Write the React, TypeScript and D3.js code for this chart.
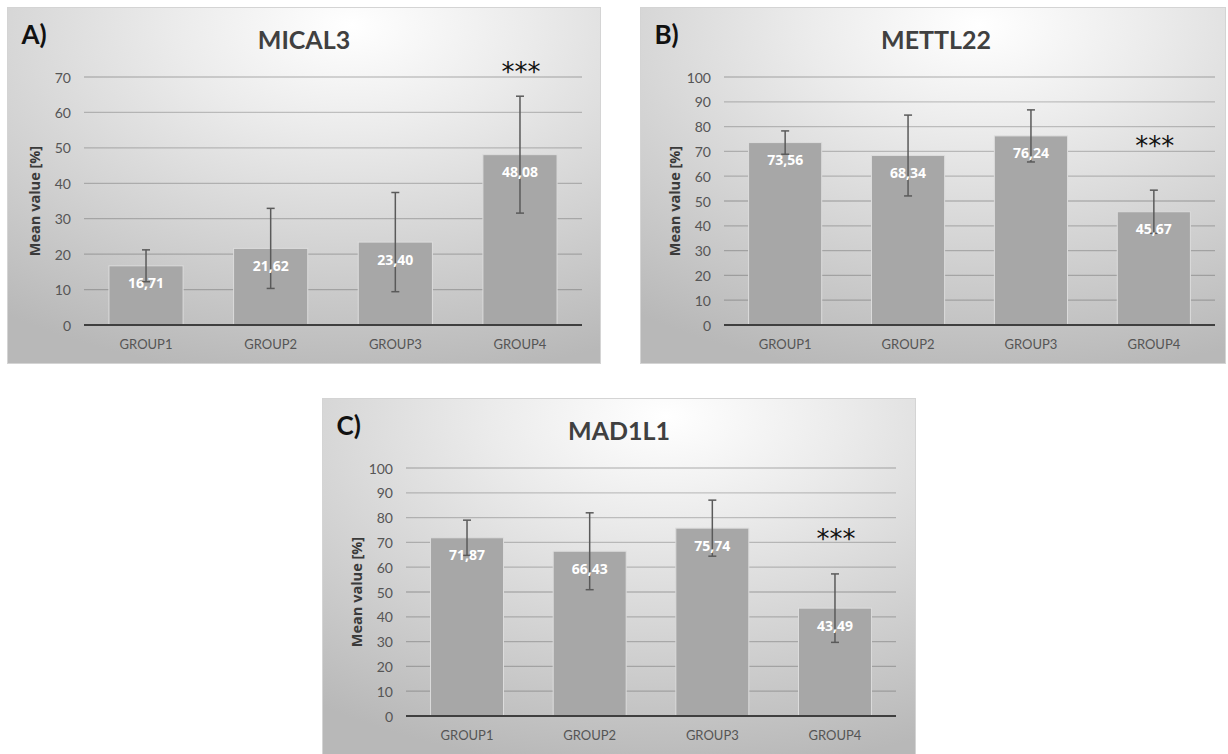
import React from 'react';
import * as d3 from 'd3';

// values
const groups = ['GROUP1', 'GROUP2', 'GROUP3', 'GROUP4'];

const mical3Means = [16.71, 21.62, 23.4, 48.08];
const mical3Sd = [4.5, 11.3, 14.0, 16.5];

const mettl22Means = [73.56, 68.34, 76.24, 45.67];
const mettl22Sd = [4.7, 16.3, 10.5, 8.7];

const mad1l1Means = [71.87, 66.43, 75.74, 43.49];
const mad1l1Sd = [7.1, 15.5, 11.3, 13.8];

const significant = [false, false, false, true];

const FONT = 'Lato, "Open Sans", sans-serif';
const HEAVY = '"Open Sans", Lato, sans-serif';

type PanelProps = {
  id: string;
  letter: string;
  title: string;
  means: number[];
  sds: number[];
  yMax: number;
  starLevel: number;
  box: { x: number; y: number; w: number; h: number; titleCx: number };
  plot: { left: number; right: number; top: number; bottom: number };
};

const fmt = (v: number) => v.toFixed(2).replace('.', ',');

const Panel = ({ id, letter, title, means, sds, yMax, starLevel, box, plot }: PanelProps) => {
  const x = d3.scaleBand<string>()
    .domain(groups)
    .range([plot.left, plot.right])
    .paddingInner(0.405)
    .paddingOuter(0.2);
  const y = d3.scaleLinear().domain([0, yMax]).range([plot.bottom, plot.top]);
  const ticks = d3.range(0, yMax + 1, 10);
  const bw = x.bandwidth();

  return (
    <g>
      <defs>
        <radialGradient id={`bg-${id}`} cx="0.58" cy="0.05" r="1.0" fx="0.58" fy="0.05">
          <stop offset="0" stopColor="#ffffff" />
          <stop offset="0.3" stopColor="#ebebeb" />
          <stop offset="1" stopColor="#b8b8b8" />
        </radialGradient>
      </defs>
      <rect x={box.x} y={box.y} width={box.w} height={box.h}
        fill={`url(#bg-${id})`} stroke="#d4d4d4" strokeWidth={1} />

      <text x={box.x + 14} y={box.y + 36} fontFamily={FONT} fontWeight="bold"
        fontSize={26} fill="#111">{letter}</text>
      <text x={box.titleCx} y={box.y + 41} textAnchor="middle" fontFamily={FONT}
        fontWeight="bold" fontSize={25} fill="#404040">{title}</text>

      {ticks.map(t => (
        <g key={t}>
          {t > 0 && (
            <line x1={plot.left} x2={plot.right} y1={y(t)} y2={y(t)}
              stroke="#000" strokeOpacity={0.2} strokeWidth={1.3} />
          )}
          <text x={plot.left - 13} y={y(t)} textAnchor="end" dominantBaseline="central"
            fontFamily={FONT} fontSize={14} fill="#555">{t}</text>
        </g>
      ))}

      <text transform={`translate(${plot.left - 50},${(plot.top + plot.bottom) / 2}) rotate(-90)`}
        textAnchor="middle" dominantBaseline="central" fontFamily={HEAVY}
        fontWeight="bold" fontSize={14.5} fill="#3a3a3a">Mean value [%]</text>

      {groups.map((g, i) => {
        const bx = x(g) as number;
        const cx = bx + bw / 2;
        const top = y(means[i]);
        return (
          <g key={g}>
            <rect x={bx} y={top} width={bw} height={y(0) - top}
              fill="#a7a7a7" stroke="#dcdcdc" strokeWidth={1} />
            <text x={cx} y={plot.bottom + 19} textAnchor="middle" dominantBaseline="central"
              fontFamily={FONT} fontSize={13} fill="#555">{g}</text>
          </g>
        );
      })}

      <line x1={plot.left} x2={plot.right} y1={y(0)} y2={y(0)} stroke="#3f3f3f" strokeWidth={2.2} />

      {groups.map((g, i) => {
        const cx = (x(g) as number) + bw / 2;
        const hi = y(means[i] + sds[i]);
        const lo = y(means[i] - sds[i]);
        return (
          <g key={g}>
            <line x1={cx} x2={cx} y1={hi} y2={lo} stroke="#5a5a5a" strokeWidth={1.5} />
            <line x1={cx - 4} x2={cx + 4} y1={hi} y2={hi} stroke="#5a5a5a" strokeWidth={1.5} />
            <line x1={cx - 4} x2={cx + 4} y1={lo} y2={lo} stroke="#5a5a5a" strokeWidth={1.5} />
            <text x={cx} y={y(means[i]) + 17} textAnchor="middle" dominantBaseline="central"
              fontFamily={HEAVY} fontWeight="bold" fontSize={14} fill="#ffffff">{fmt(means[i])}</text>
            {significant[i] && (
              <text x={cx + 1} y={y(starLevel) + 13} textAnchor="middle"
                fontFamily='"DejaVu Sans", sans-serif' fontSize={26} fill="#111">***</text>
            )}
          </g>
        );
      })}
    </g>
  );
};

export default function App() {
  return (
    <svg width={1228} height={754} style={{ position: 'absolute', left: 0, top: 0, background: '#fff' }}>
      <Panel id="a" letter="A)" title="MICAL3" means={mical3Means} sds={mical3Sd}
        yMax={70} starLevel={72.6}
        box={{ x: 7.5, y: 7.5, w: 593, h: 356, titleCx: 304 }}
        plot={{ left: 84, right: 582, top: 77, bottom: 325 }} />
      <Panel id="b" letter="B)" title="METTL22" means={mettl22Means} sds={mettl22Sd}
        yMax={100} starLevel={73.8}
        box={{ x: 640.5, y: 7.5, w: 585, h: 356, titleCx: 936 }}
        plot={{ left: 724, right: 1215, top: 77, bottom: 325 }} />
      <Panel id="c" letter="C)" title="MAD1L1" means={mad1l1Means} sds={mad1l1Sd}
        yMax={100} starLevel={72.9}
        box={{ x: 322.5, y: 398.5, w: 593, h: 356, titleCx: 619 }}
        plot={{ left: 406, right: 896, top: 468, bottom: 716 }} />
    </svg>
  );
}
